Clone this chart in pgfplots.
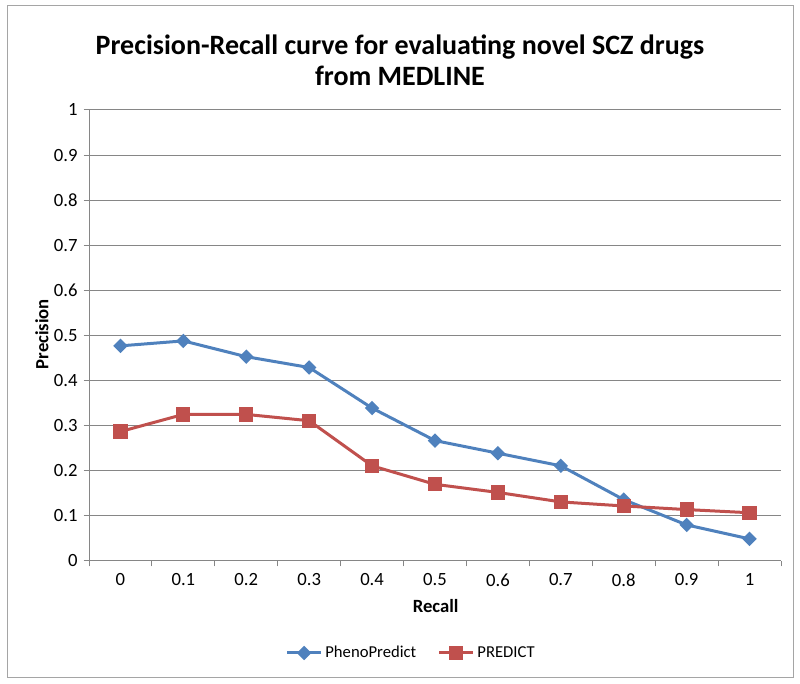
\documentclass[border=0pt]{standalone}
\usepackage{pgfplots}
\pgfplotsset{compat=1.18}
\usepackage{fontspec}
\setmainfont{Carlito}
\definecolor{xlblue}{RGB}{79,129,189}
\definecolor{xlred}{RGB}{192,80,77}
\definecolor{gridc}{RGB}{134,134,134}
\definecolor{framec}{RGB}{165,165,165}
\begin{document}
\begin{tikzpicture}
\path[use as bounding box] (0,0) rectangle (600pt,513pt);
\draw[framec, line width=0.75pt] (5.25pt,4.5pt) rectangle (594.75pt,508.5pt);
\node[font=\bfseries\fontsize{21}{23.5}\selectfont, align=center] at (300pt,467.6pt) {Precision-Recall curve for evaluating novel SCZ drugs\\from MEDLINE};
\begin{axis}[at={(66.75pt,92.25pt)}, anchor=south west, scale only axis,
  width=519pt, height=338.25pt,
  xmin=-0.5, xmax=10.5, ymin=0, ymax=1,
  axis x line=bottom, axis y line=left,
  axis line style={gridc, line width=0.75pt, -},
  xtick={0,1,2,3,4,5,6,7,8,9,10},
  xticklabels={0,0.1,0.2,0.3,0.4,0.5,0.6,0.7,0.8,0.9,1},
  major x tick style={draw=none},
  minor xtick={-0.5,0.5,1.5,2.5,3.5,4.5,5.5,6.5,7.5,8.5,9.5,10.5},
  ytick={0,0.1,0.2,0.3,0.4,0.5,0.6,0.7,0.8,0.9,1},
  yticklabels={0,0.1,0.2,0.3,0.4,0.5,0.6,0.7,0.8,0.9,1},
  ymajorgrids, grid style={gridc, line width=0.75pt},
  tick align=outside, major tick length=4pt, minor tick length=4pt,
  tick style={gridc, line width=0.75pt},
  /pgf/number format/assume math mode=true,
  xticklabel style={font=\fontsize{14}{16}\selectfont, yshift=-2pt},
  yticklabel style={font=\fontsize{14}{16}\selectfont, xshift=-1pt},
  xlabel={\bfseries\fontsize{14}{16}\selectfont Recall},
  ylabel={\bfseries\fontsize{14}{16}\selectfont Precision},
  xlabel style={at={(axis description cs:0.501,-0.1)}, anchor=center},
  ylabel style={at={(axis description cs:-0.068,0.503)}, anchor=center},
  legend style={at={(0.466,-0.204)}, anchor=center, draw=none, legend columns=2,
    font=\fontsize{12.5}{14}\selectfont,
    /tikz/every even column/.append style={column sep=14pt}},
  legend image code/.code={\draw[mark repeat=2,mark phase=2] plot coordinates {(0cm,0cm) (0.45cm,0cm) (0.9cm,0cm)};},
  legend cell align=left,
  clip=false,
]
\addplot[xlblue, line width=2.25pt, mark=square*, mark size=2.7pt, mark options={rotate=45}]
coordinates {(0,0.477) (1,0.488) (2,0.453) (3,0.429) (4,0.339) (5,0.267) (6,0.239) (7,0.211) (8,0.136) (9,0.080) (10,0.049)};
\addlegendentry{PhenoPredict}
\addplot[xlred, line width=2.25pt, mark=square*, mark size=4.2pt]
coordinates {(0,0.287) (1,0.325) (2,0.325) (3,0.311) (4,0.211) (5,0.170) (6,0.152) (7,0.131) (8,0.122) (9,0.114) (10,0.107)};
\addlegendentry{PREDICT}
\end{axis}
\end{tikzpicture}
\end{document}
